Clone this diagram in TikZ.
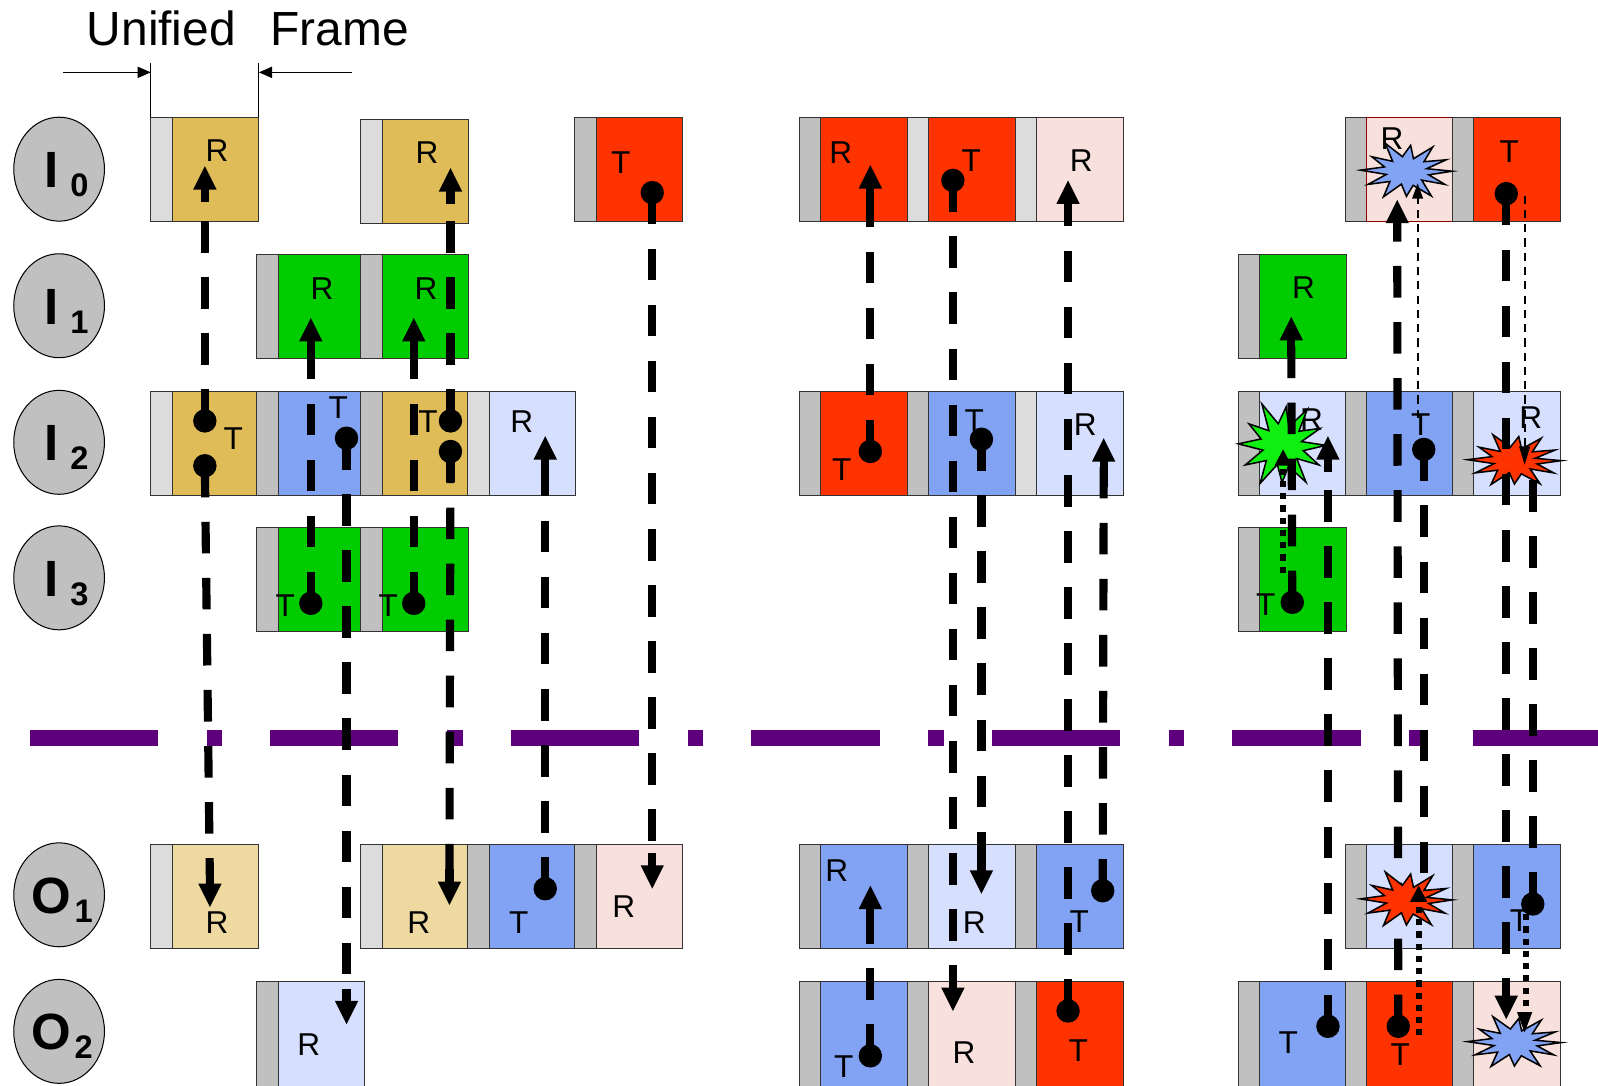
\documentclass[tikz,border=0pt]{standalone}
\usepackage{fontspec}
\setmainfont{Liberation Sans}
\usetikzlibrary{arrows.meta,shapes.geometric}
\definecolor{gold}{HTML}{E0BC58}
\definecolor{lgold}{HTML}{EED9A0}
\definecolor{grn}{HTML}{00CC00}
\definecolor{bgrn}{HTML}{10F010}
\definecolor{blu}{HTML}{82A3F3}
\definecolor{lblu}{HTML}{D6E0FE}
\definecolor{rd}{HTML}{FF3300}
\definecolor{pnk}{HTML}{F8E0DC}
\definecolor{sD}{HTML}{C0C0C0}
\definecolor{sL}{HTML}{DCDCDC}
\definecolor{purp}{HTML}{5E007E}
\tikzset{
 bx/.style={draw=black!80, line width=1pt, minimum width=85pt, minimum height=102pt, inner sep=0pt, outer sep=0pt, anchor=north west},
 stripbox/.style={bx, minimum width=21pt},
 conn/.style={line width=8pt, dash pattern=on 31pt off 24pt},
 stem/.style={line width=8pt},
 thinconn/.style={line width=2.2pt, dash pattern=on 8pt off 6pt},
 dotconn/.style={line width=6pt, dash pattern=on 6pt off 6pt},
 lbl/.style={font=\fontsize{31}{31}\selectfont, inner sep=0pt},
 uf/.style={font=\fontsize{47}{47}\selectfont, inner sep=0pt},
 ell/.style={ellipse, draw, fill=sD, minimum width=89pt, minimum height=102pt, line width=1pt, inner sep=0pt},
 bigl/.style={font=\fontsize{50}{50}\selectfont\bfseries, inner sep=0pt, anchor=base},
 subl/.style={font=\fontsize{32}{32}\selectfont\bfseries, inner sep=0pt, anchor=base},
 dimarr/.style={line width=1.3pt, -{Triangle[length=13pt,width=11pt]}},
 purpline/.style={purp, line width=15pt, dash pattern=on 126pt off 48pt on 15pt off 47pt}
}
% frame: [opts] x ytop stripcolor boxcolor name
\newcommand\frm[6][]{\node[stripbox, fill=#4, #1] (#6s) at (#2,#3) {};\node[bx, fill=#5, #1] (#6) at ({#2+21},#3) {};}
\newcommand\tx[4]{\node[lbl] (#1) at (#2,#3) {#4};}
% up arrow: x, tip y, name (coordinate at base)
\newcommand\upA[3]{\fill ({#1},{#2}) -- ({#1-11.5},{#2+23}) -- ({#1+11.5},{#2+23}) -- cycle;
 \draw[stem] ({#1},{#2+22}) -- ({#1},{#2+35}); \coordinate (#3) at ({#1},{#2+22});}
\newcommand\dnA[3]{\fill ({#1},{#2}) -- ({#1-11.5},{#2-23}) -- ({#1+11.5},{#2-23}) -- cycle;
 \draw[stem] ({#1},{#2-22}) -- ({#1},{#2-35}); \coordinate (#3) at ({#1},{#2-22});}
\newcommand\ballU[3]{\draw[stem] ({#1},{#2}) -- ({#1},{#2-30}); \fill ({#1},{#2}) circle[radius=11.5]; \coordinate (#3) at ({#1},{#2});}
\newcommand\ballD[3]{\draw[stem] ({#1},{#2}) -- ({#1},{#2+30}); \fill ({#1},{#2}) circle[radius=11.5]; \coordinate (#3) at ({#1},{#2});}
% small triangles: x tip, y tip, half width, height
\newcommand\triU[4]{\fill ({#1},{#2}) -- ({#1-#3},{#2+#4}) -- ({#1+#3},{#2+#4}) -- cycle;}
\newcommand\triD[4]{\fill ({#1},{#2}) -- ({#1-#3},{#2-#4}) -- ({#1+#3},{#2-#4}) -- cycle;}
% burst: cx cy rx ry colour
\newcommand\burst[5]{\begin{scope}[shift={(#1,#2)}]
\draw[fill=#5, line width=1.5pt] (#3,0)
 \foreach \bA/\bR in {14/0.5,28/0.95,42/0.45,57/1,73/0.5,90/0.85,104/0.45,120/1,136/0.5,152/0.95,166/0.45,182/1,197/0.5,213/0.9,228/0.45,244/1.05,260/0.5,276/0.88,290/0.45,305/1,320/0.5,336/0.95,349/0.45}{ -- ({\bR*#3*cos(\bA)},{\bR*#4*sin(\bA)})} -- cycle;
\end{scope}}
% row label: name y letter letterx sub subx
\newcommand\lab[6]{\node[ell] (#1) at (58,#2) {};
\node[bigl] (#1l) at (#4,{#2+18}) {#3};
\node[subl] (#1s) at (#6,{#2+27}) {#5};}

\begin{document}
\begin{tikzpicture}[x=1pt,y=-1pt]
\useasboundingbox (0,0) rectangle (1568,1065);

% header
\node[uf, anchor=base west] (uf1) at (85,45) {Unified};
\node[uf, anchor=base west] (uf2) at (265,45) {Frame};
\coordinate (vl) at (148,62); \coordinate (vlb) at (148,115);
\coordinate (vr) at (254,62); \coordinate (vrb) at (254,115);
\draw[line width=1pt] (vl) -- (vlb);
\draw[line width=1pt] (vr) -- (vrb);
\coordinate (al) at (62,71); \coordinate (alt) at (148,71);
\coordinate (ar) at (345,71); \coordinate (art) at (254,71);
\draw[dimarr] (al) -- (alt);
\draw[dimarr] (ar) -- (art);

% row labels
\lab{e0}{166}{I}{51}{0}{78}
\lab{e1}{300}{I}{51}{1}{78}
\lab{e2}{434}{I}{51}{2}{78}
\lab{e3}{567}{I}{51}{3}{78}
\lab{e4}{878}{O}{50}{1}{82}
\lab{e5}{1012}{O}{50}{2}{82}

% frames I0
\frm{148}{115}{sL}{gold}{i0a}
\frm{354}{117}{sL}{gold}{i0c}
\frm{564}{115}{sD}{rd}{i0e}
\frm{784}{115}{sD}{rd}{i0f}
\frm{890}{115}{sL}{rd}{i0g}
\frm{996}{115}{sL}{pnk}{i0h}
\frm{1320}{115}{sD}{pnk}{i0j}
\draw[red!55!black, line width=1.2pt] (i0j.north west) rectangle (i0j.south east);
\frm{1425}{115}{sD}{rd}{i0k}
% I1
\frm{252}{250}{sD}{grn}{i1b}
\frm{354}{250}{sD}{grn}{i1c}
\frm{1215}{250}{sD}{grn}{i1i}
% I2
\frm{148}{384}{sL}{gold}{i2a}
\frm{252}{384}{sD}{blu}{i2b}
\frm{354}{384}{sD}{gold}{i2c}
\frm{459}{384}{sL}{lblu}{i2d}
\frm{784}{384}{sD}{rd}{i2f}
\frm{890}{384}{sD}{blu}{i2g}
\frm{996}{384}{sL}{lblu}{i2h}
\frm{1215}{384}{sD}{lblu}{i2i}
\frm{1320}{384}{sD}{blu}{i2j}
\frm{1425}{384}{sD}{lblu}{i2k}
% I3
\frm{252}{518}{sD}{grn}{i3b}
\frm{354}{518}{sD}{grn}{i3c}
\frm{1215}{518}{sD}{grn}{i3i}
% O1
\frm{148}{829}{sL}{lgold}{o1a}
\frm{354}{829}{sL}{lgold}{o1c}
\frm{459}{829}{sD}{blu}{o1d}
\frm{564}{829}{sD}{pnk}{o1e}
\frm{784}{829}{sD}{blu}{o1f}
\frm{890}{829}{sD}{lblu}{o1g}
\frm{996}{829}{sD}{blu}{o1h}
\frm{1320}{829}{sD}{lblu}{o1j}
\frm{1425}{829}{sD}{blu}{o1k}
% O2
\frm[minimum height=112pt]{252}{963}{sD}{lblu}{o2b}
\frm[minimum height=112pt]{784}{963}{sD}{blu}{o2f}
\frm[minimum height=112pt]{890}{963}{sD}{pnk}{o2g}
\frm[minimum height=112pt]{996}{963}{sD}{rd}{o2h}
\frm[minimum height=112pt]{1215}{963}{sD}{blu}{o2i}
\frm[minimum height=112pt]{1320}{963}{sD}{rd}{o2j}
\frm[minimum height=112pt]{1425}{963}{sD}{pnk}{o2k}

% texts
\tx{t1}{213}{148}{R}
\tx{t2}{419}{150}{R}
\tx{t3}{609}{160}{T}
\tx{t4}{316}{283}{R}
\tx{t5}{418}{283}{R}
\tx{t6}{229}{430}{T}
\tx{t7}{332}{400}{T}
\tx{t8}{420}{414}{T}
\tx{t9}{512}{414}{R}
\tx{t10}{280}{594}{T}
\tx{t11}{381}{594}{T}
\tx{t12}{213}{905}{R}
\tx{t13}{411}{905}{R}
\tx{t14}{509}{905}{T}
\tx{t15}{612}{890}{R}
\tx{t16}{303}{1025}{R}
\tx{t17}{825}{150}{R}
\tx{t18}{953}{158}{T}
\tx{t19}{1061}{158}{R}
\tx{t20}{826}{461}{T}
\tx{t21}{956}{413}{T}
\tx{t22}{1065}{417}{R}
\tx{t23}{821}{854}{R}
\tx{t24}{956}{905}{R}
\tx{t25}{1059}{904}{T}
\tx{t26}{828}{1047}{T}
\tx{t27}{946}{1033}{R}
\tx{t28}{1058}{1031}{T}
\tx{t29}{1366}{136}{R}
\tx{t30}{1481}{149}{T}
\tx{t31}{1279}{282}{R}
\tx{t32}{1287}{412}{R}
\tx{t33}{1394}{417}{T}
\tx{t34}{1502}{410}{R}
\tx{t35}{1242}{593}{T}
\tx{t36}{1491}{903}{T}
\tx{t37}{1264}{1023}{T}
\tx{t38}{1374}{1035}{T}

% divider
\coordinate (pl) at (29,724); \coordinate (pr) at (1568,724);
\draw[purpline] (pl) -- (pr);

% bursts below connectors
\burst{1380}{168}{45}{29}{blu}
\burst{1258}{437}{43}{43}{bgrn}
\burst{1486}{452}{46}{27}{rd}

% symbols group 1
\upA{201}{163}{a1}
\upA{442}{165}{a2}
\ballD{640}{189}{b3}
\upA{305}{312}{a4}
\upA{406}{312}{a5}
\ballU{201}{413}{b6}
\ballD{201}{457}{b7}
\ballD{340}{430}{b8}
\ballU{442}{413}{b9}
\ballD{442}{443}{b10}
\upA{535}{428}{a11}
\ballU{305}{592}{b12}
\ballU{406}{592}{b13}
\dnA{206}{890}{a14}
\dnA{441}{888}{a15}
\ballU{535}{872}{b16}
\dnA{640}{872}{a17}
\dnA{340}{1005}{a18}
% group 2
\upA{854}{162}{a19}
\ballD{935}{177}{b20}
\upA{1048}{177}{a21}
\ballU{854}{443}{b22}
\ballD{963}{431}{b23}
\upA{1083}{430}{a24}
\upA{854}{869}{a25}
\dnA{963}{877}{a26}
\ballU{1082}{874}{b27}
\ballU{854}{1036}{b28}
\dnA{935}{992}{a29}
\ballU{1048}{992}{b30}
% group 3
\upA{1371}{196}{a31}
\ballD{1478}{190}{b32}
\upA{1267}{311}{a33}
\upA{1303}{428}{a34}
\ballD{1397}{441}{b35}
\ballU{1268}{591}{b36}
\ballU{1504}{887}{b37}
\ballU{1303}{1007}{b38}
\ballU{1372}{1007}{b39}
\dnA{1478}{1000}{a40}
\coordinate (e35) at (1397,875);
\coordinate (e37) at (1504,470);

% connectors
\draw[conn] (b6) -- (a1);
\draw[conn] (b7) -- (a14);
\draw[conn] (b12) -- (a4);
\draw[conn] (b8) -- (a18);
\draw[conn] (b13) -- (a5);
\draw[conn] (b9) -- (a2);
\draw[conn] (b10) -- (a15);
\draw[conn] (b16) -- (a11);
\draw[conn] (b3) -- (a17);
\draw[conn] (b22) -- (a19);
\draw[conn] (b28) -- (a25);
\draw[conn] (b20) -- (a29);
\draw[conn] (b23) -- (a26);
\draw[conn] (b30) -- (a21);
\draw[conn] (b27) -- (a24);
\draw[conn] (b36) -- (a33);
\draw[conn] (b38) -- (a34);
\draw[conn] (b39) -- (a31);
\draw[conn] (b35) -- (e35);
\draw[conn] (b32) -- (a40);
\draw[conn] (b37) -- (e37);

% bursts above connectors
\burst{1380}{883}{45}{29}{rd}
\burst{1486}{1023}{46}{27}{blu}

% dotted and thin connectors
\coordinate (d1s) at (1259,562); \coordinate (d1e) at (1259,456);
\draw[dotconn] (d1s) -- (d1e); \triU{1259}{441}{8.5}{16}
\coordinate (d2s) at (1392,1016); \coordinate (d2e) at (1392,884);
\draw[dotconn] (d2s) -- (d2e); \triU{1392}{869}{8.5}{16}
\coordinate (d3s) at (1497,897); \coordinate (d3e) at (1497,995);
\draw[dotconn] (d3s) -- (d3e); \triD{1496}{1013}{7.5}{20}
\coordinate (h1s) at (1391,410); \coordinate (h1e) at (1391,193);
\draw[thinconn] (h1s) -- (h1e); \triU{1391}{180}{5.5}{15}
\coordinate (h2s) at (1496,192); \coordinate (h2e) at (1496,440);
\draw[thinconn] (h2s) -- (h2e); \triD{1496}{456}{5.5}{18}
\end{tikzpicture}
\end{document}
